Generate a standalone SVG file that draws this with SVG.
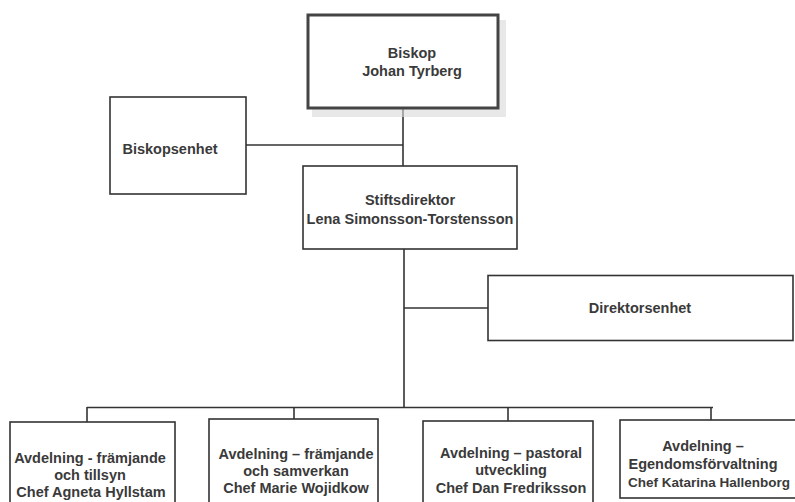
<svg xmlns="http://www.w3.org/2000/svg" width="795" height="502" viewBox="0 0 795 502">
<defs>
<style>
.box{fill:#fff;stroke:#333;stroke-width:1.6}
.t{font-family:"Liberation Sans",Arial,sans-serif;font-weight:bold;font-size:14.5px;fill:#3a3a3a;text-anchor:middle}
.c{fill:none;stroke:#333;stroke-width:1.6}
</style>
</defs>
<rect width="795" height="502" fill="#fff"/>
<g id="connectors">
<line class="c" x1="403" y1="108" x2="403" y2="166"/>
<line class="c" x1="246" y1="145" x2="403" y2="145"/>
<line class="c" x1="404" y1="249" x2="404" y2="407"/>
<line class="c" x1="404" y1="308" x2="488" y2="308"/>
<line class="c" x1="87" y1="407.5" x2="713" y2="407.5"/>
<line class="c" x1="87" y1="407" x2="87" y2="422"/>
<line class="c" x1="294" y1="407" x2="294" y2="419"/>
<line class="c" x1="508" y1="407" x2="508" y2="421"/>
<line class="c" x1="711" y1="407" x2="711" y2="420"/>
</g>
<g id="biskop">
<rect x="312" y="20" width="194" height="97" fill="#d8d8d8" opacity="0.6"/>
<rect x="308" y="15" width="190" height="93" fill="#fff" stroke="#444" stroke-width="3"/>
<text class="t" x="412" y="58">Biskop</text>
<text class="t" x="412" y="76">Johan Tyrberg</text>
</g>
<g id="biskopsenhet">
<rect class="box" x="110" y="97" width="136" height="97"/>
<text class="t" x="170" y="154">Biskopsenhet</text>
</g>
<g id="stiftsdirektor">
<rect class="box" x="303" y="166" width="214" height="83"/>
<text class="t" x="410" y="205">Stiftsdirektor</text>
<text class="t" x="410" y="224">Lena Simonsson-Torstensson</text>
</g>
<g id="direktorsenhet">
<rect class="box" x="488" y="275.5" width="305" height="65"/>
<text class="t" x="640" y="313">Direktorsenhet</text>
</g>
<g id="avd1">
<rect class="box" x="10" y="422" width="165" height="84"/>
<text class="t" x="90" y="463">Avdelning - främjande</text>
<text class="t" x="90" y="480">och tillsyn</text>
<text class="t" x="91" y="497">Chef Agneta Hyllstam</text>
</g>
<g id="avd2">
<rect class="box" x="209" y="419" width="169" height="87"/>
<text class="t" x="296" y="459">Avdelning – främjande</text>
<text class="t" x="296" y="476">och samverkan</text>
<text class="t" x="296" y="493">Chef Marie Wojidkow</text>
</g>
<g id="avd3">
<rect class="box" x="423" y="421" width="170" height="85"/>
<text class="t" x="511" y="458">Avdelning – pastoral</text>
<text class="t" x="511" y="475">utveckling</text>
<text class="t" x="511" y="493">Chef Dan Fredriksson</text>
</g>
<g id="avd4">
<rect class="box" x="620" y="420" width="185" height="78"/>
<text class="t" x="703" y="451">Avdelning –</text>
<text class="t" x="703" y="469">Egendomsförvaltning</text>
<text class="t" x="709" y="487" style="font-size:13.5px">Chef Katarina Hallenborg</text>
</g>
</svg>
